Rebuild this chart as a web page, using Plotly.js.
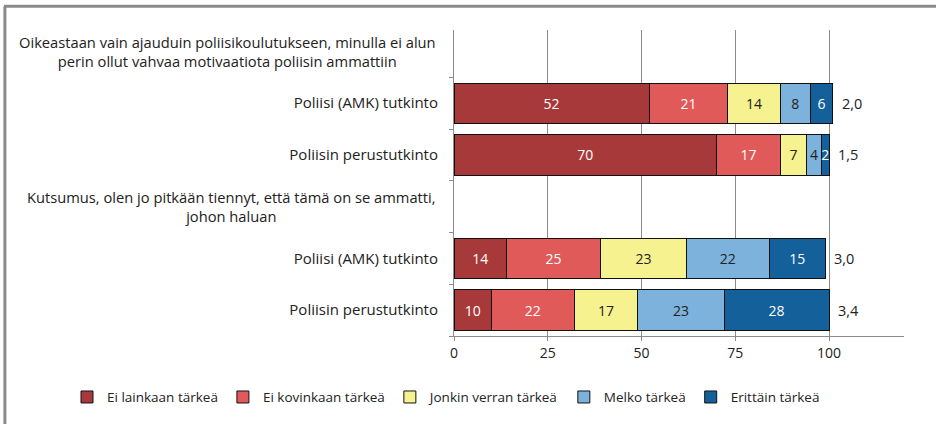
<!DOCTYPE html>
<html>
<head>
<meta charset="utf-8">
<script src="https://cdn.plot.ly/plotly-3.0.1.min.js"></script>
<style>html,body{margin:0;padding:0;background:#fff;}#chart{width:936px;height:424px;}</style>
</head>
<body>
<div id="chart"></div>
<script>
// Row keys (top to bottom) and labels
const rowKeys = ["h1", "a1", "b1", "h2", "a2", "b2"];
const rowLabels = ["", "Poliisi (AMK) tutkinto", "Poliisin perustutkinto", "", "Poliisi (AMK) tutkinto", "Poliisin perustutkinto"];
const headerKeys = ["h1", "h2"];
const headerTexts = [
  "Oikeastaan vain ajauduin poliisikoulutukseen, minulla ei alun<br>perin ollut vahvaa motivaatiota poliisin ammattiin",
  "Kutsumus, olen jo pitkään tiennyt, että tämä on se ammatti,<br>johon haluan"
];
const barRows = ["a1", "b1", "a2", "b2"];
const seriesNames = ["Ei lainkaan tärkeä", "Ei kovinkaan tärkeä", "Jonkin verran tärkeä", "Melko tärkeä", "Erittäin tärkeä"];
const eiLainkaan = [52, 70, 14, 10];
const eiKovinkaan = [21, 17, 25, 22];
const jonkinVerran = [14, 7, 23, 17];
const melko = [8, 4, 22, 23];
const erittain = [6, 2, 15, 28];
const means = ["2,0", "1,5", "3,0", "3,4"];
const xTicks = [0, 25, 50, 75, 100];

const seriesValues = [eiLainkaan, eiKovinkaan, jonkinVerran, melko, erittain];
const colors = ["#A8393B", "#E05A59", "#F6F28F", "#7CB2DB", "#13609A"];
const textColors = ["#ffffff", "#ffffff", "#222222", "#222222", "#ffffff"];
const FONT = "Open Sans, sans-serif";

const traces = seriesValues.map((vals, i) => ({
  type: "bar",
  orientation: "h",
  name: seriesNames[i],
  y: barRows,
  x: vals,
  text: vals.map(String),
  textposition: "inside",
  insidetextanchor: "middle",
  constraintext: "none",
  textangle: 0,
  textfont: {family: FONT, size: 14, color: textColors[i]},
  marker: {color: colors[i], line: {color: "#111111", width: 1}},
  hoverinfo: "skip"
}));

const totals = barRows.map((_, r) => seriesValues.reduce((s, v) => s + v[r], 0));

const annotations = [];
headerKeys.forEach((k, i) => annotations.push({
  xref: "paper", yref: "y", x: -0.036, y: k, xanchor: "right", yanchor: "middle",
  text: headerTexts[i], align: "center", showarrow: false,
  font: {family: FONT, size: 14.7, color: "#222"}
}));
barRows.forEach((k, r) => annotations.push({
  xref: "x", yref: "y", x: totals[r], y: k, xanchor: "left", yanchor: "middle",
  xshift: 7, text: means[r], showarrow: false,
  font: {family: FONT, size: 14.5, color: "#222"}
}));

const layout = {
  width: 936, height: 424,
  margin: {l: 454, r: 32, t: 30, b: 88, autoexpand: false},
  paper_bgcolor: "#ffffff", plot_bgcolor: "#ffffff",
  barmode: "stack", bargap: 0.22,
  font: {family: FONT, size: 14, color: "#222"},
  xaxis: {
    range: [0, 120], tickvals: xTicks, ticktext: xTicks.map(String),
    showgrid: true, gridcolor: "#8c8c8c", gridwidth: 1,
    showline: true, linecolor: "#8c8c8c", linewidth: 1,
    ticks: "outside", ticklen: 4, tickcolor: "#8c8c8c",
    zeroline: false, fixedrange: true,
    tickfont: {family: FONT, size: 14, color: "#222"}
  },
  yaxis: {
    type: "category", categoryorder: "array", categoryarray: rowKeys,
    autorange: "reversed",
    tickvals: rowKeys, ticktext: rowLabels,
    tickson: "boundaries", ticks: "outside", ticklen: 4, tickcolor: "#8c8c8c",
    showline: true, linecolor: "#8c8c8c", linewidth: 1,
    showgrid: false, zeroline: false, fixedrange: true,
    ticklabelstandoff: 12,
    tickfont: {family: FONT, size: 15, color: "#222"}
  },
  legend: {
    orientation: "h", xref: "paper", x: -0.86, xanchor: "left",
    yref: "paper", y: -0.2, yanchor: "middle", itemwidth: 30,
    font: {family: FONT, size: 13.5, color: "#222"},
    traceorder: "normal"
  },
  showlegend: true,
  annotations: annotations,
  shapes: [
    {type: "line", xref: "paper", yref: "paper", x0: -1.0, x1: 1.1, y0: 1.078, y1: 1.078, line: {color: "#8a8a8a", width: 3}},
    {type: "line", xref: "paper", yref: "paper", x0: -0.998, x1: -0.998, y0: 1.078, y1: -0.5, line: {color: "#8a8a8a", width: 3}}
  ]
};

Plotly.newPlot("chart", traces, layout, {displayModeBar: false, staticPlot: true});
</script>
</body>
</html>
